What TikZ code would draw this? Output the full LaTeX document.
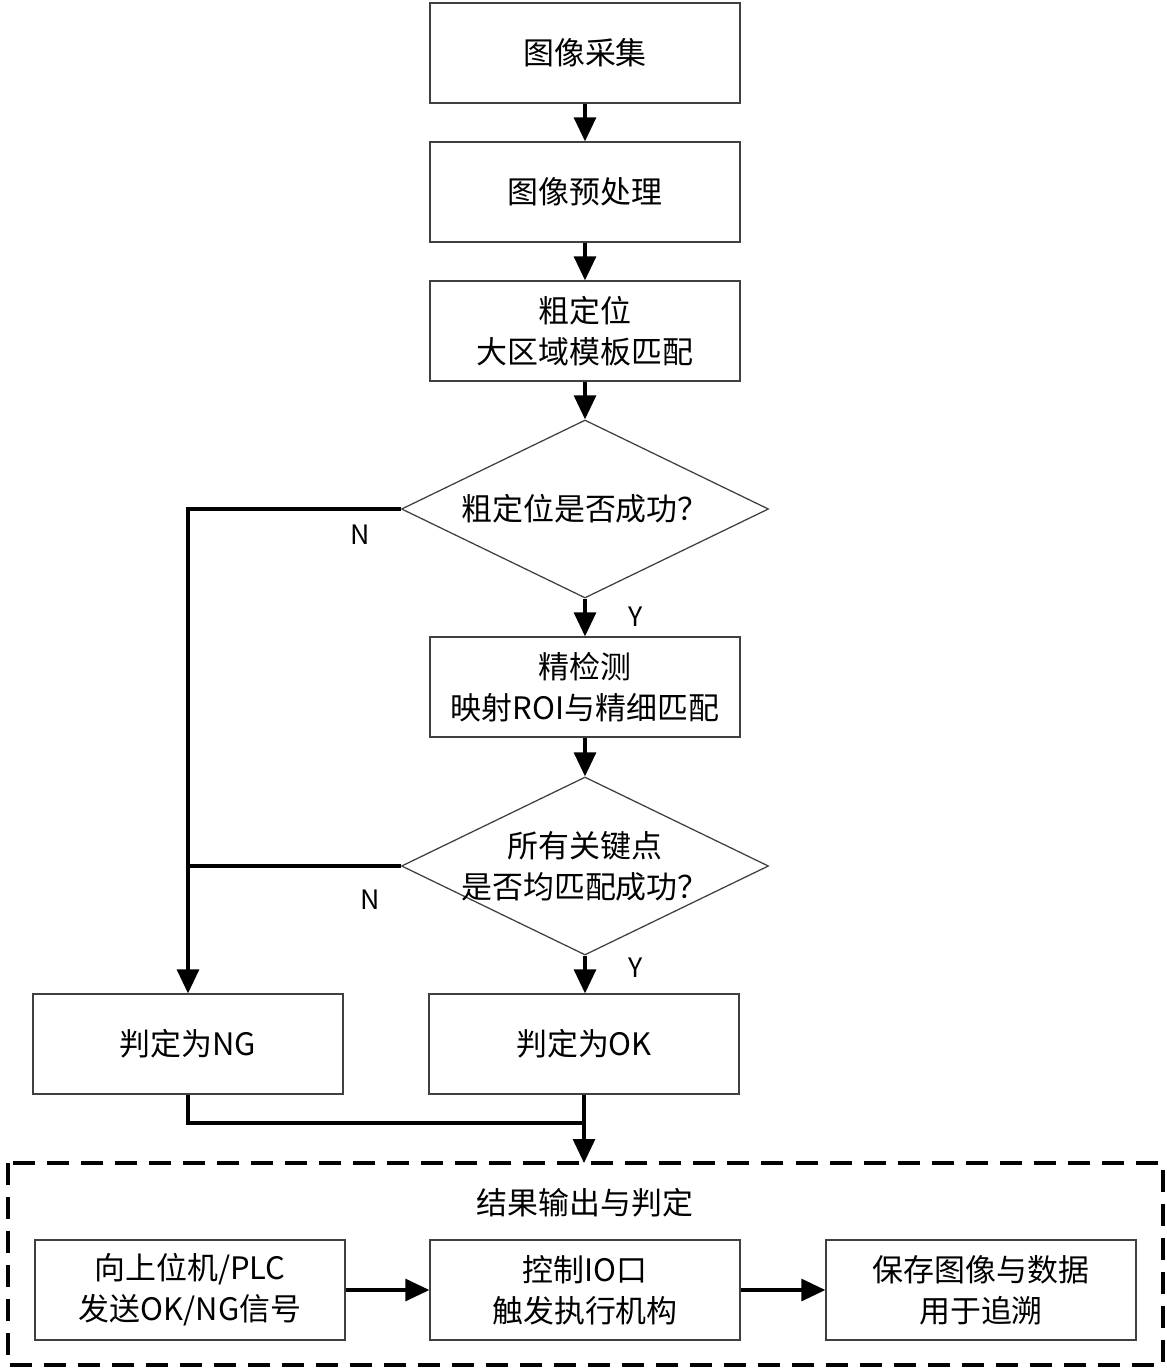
\documentclass[tikz,border=0pt]{standalone}
\usepackage{fontspec}
\setmainfont{Noto Sans CJK SC}
\usetikzlibrary{arrows.meta,shapes.geometric}
\tikzset{
  stepbox/.style={draw=black!75, line width=0.9pt, minimum width=7.75cm, minimum height=2.5cm, inner sep=0pt, align=center, font=\fontsize{22}{29}\selectfont},
  testbox/.style={draw=black!75, line width=0.9pt, diamond, inner sep=0pt, minimum width=9.175cm, minimum height=4.45cm},
  testtext/.style={align=center, font=\fontsize{22}{29}\selectfont},
  flow/.style={line width=2.2pt},
  flowarr/.style={line width=2.2pt, -{Triangle[length=0.6cm, width=0.55cm]}},
  yn/.style={font=\fontsize{19}{21}\selectfont}
}
\begin{document}
\begin{tikzpicture}[x=0.025cm, y=-0.025cm]
			%%%%% START %%%%%
			\useasboundingbox (0, 0) rectangle (1166, 1369);
			
			\node[stepbox] (capture) at (585, 53) {图像采集};
			\node[stepbox] (prep) at (585, 192) {图像预处理};
			\node[stepbox] (coarse) at (585, 331) {粗定位\\大区域模板匹配};
			\node[testbox, label={[testtext]center:粗定位是否成功？}] (coarseok) at (585, 509) {};
			\node[stepbox] (fine) at (585, 687) {精检测\\映射ROI与精细匹配};
			\node[testbox, label={[testtext]center:所有关键点\\是否均匹配成功？}] (allok) at (585, 866) {};
			
			\node[stepbox] (ng) at (188, 1044) {判定为NG};
			\node[stepbox] (ok) at (584, 1044) {判定为OK};
			
			\draw[flowarr] (capture) -- (prep);
			\draw[flowarr] (prep) -- (coarse);
			\draw[flowarr] (coarse) -- (coarseok);
			\draw[flowarr] (coarseok) -- (fine);
			\draw[flowarr] (fine) -- (allok);
			\draw[flowarr] (allok.south) -- (allok.south |- ok.north);
			
			\draw[flowarr] (coarseok.west) -| (ng.north);
			\draw[flow] (allok.west) -- (allok.west -| ng.north);
			
			\node[yn] at (360, 535) {N};
			\node[yn] at (636, 617) {Y};
			\node[yn] at (370, 900) {N};
			\node[yn] at (636, 968) {Y};
			
			% result output
			\draw[line width=2.2pt, dash pattern=on 0.55cm off 0.3cm] (8, 1163) rectangle (1163, 1365);
			\coordinate (outtop) at (584, 1163);
			\coordinate (join) at (584, 1123);
			\draw[flow] (ng.south) |- (join);
			\draw[flowarr] (ok.south) -- (outtop);
			\node[font=\fontsize{22}{29}\selectfont] (outtitle) at (585, 1203) {结果输出与判定};
			
			\node[stepbox] (send) at (190, 1290) {向上位机/PLC\\发送OK/NG信号};
			\node[stepbox] (io) at (585, 1290) {控制IO口\\触发执行机构};
			\node[stepbox] (save) at (981, 1290) {保存图像与数据\\用于追溯};
			\draw[flowarr] (send) -- (io);
			\draw[flowarr] (io) -- (save);
			
			%%%%% END %%%%%
\end{tikzpicture}
\end{document}
